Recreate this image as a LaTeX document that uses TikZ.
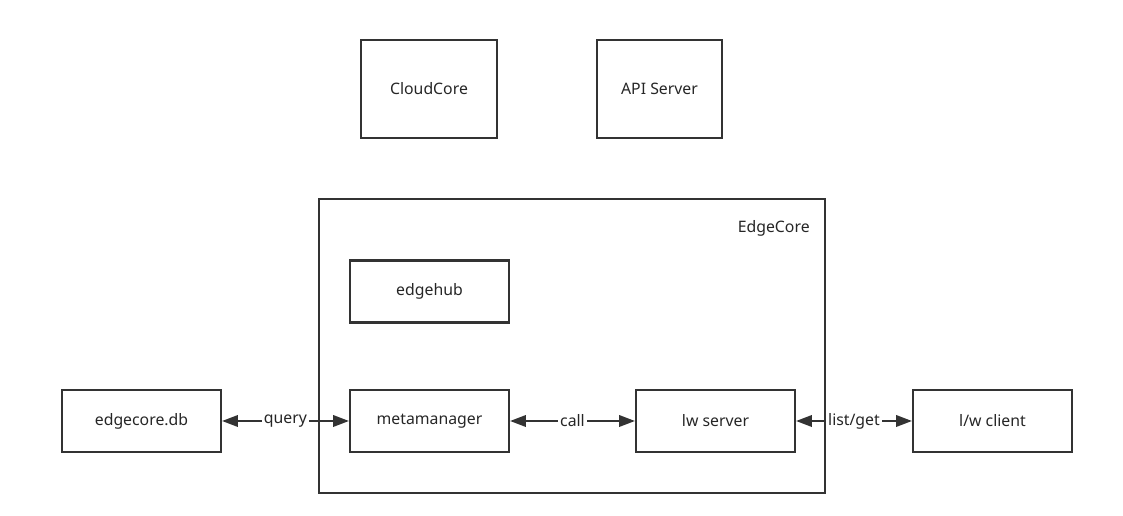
\documentclass[tikz,border=0pt]{standalone}
\usepackage{fontspec}
\setmainfont{Noto Sans}
\usetikzlibrary{arrows.meta, positioning}

\tikzset{
	box/.style={draw=black!80, line width=1.2pt, minimum width=3.18cm, minimum height=1.24cm, inner sep=0pt, text=black!85, font=\fontsize{9}{11}\selectfont},
	link/.style={{Triangle[length=9pt,width=6.5pt]}-{Triangle[length=9pt,width=6.5pt]}, line width=1.2pt, draw=black!80},
	tag/.style={fill=white, inner sep=1pt, text=black!85, font=\fontsize{9}{11}\selectfont}
}

\begin{document}
\begin{tikzpicture}[x=0.02cm, y=-0.02cm]
	\useasboundingbox (0,0) rectangle (1123,516);
	
	\coordinate (C)  at (429,89);
	\coordinate (A)  at (659.5,89);
	\coordinate (H)  at (429.5,291.5);
	\coordinate (D)  at (141.5,421);
	\coordinate (M)  at (429.5,421);
	\coordinate (S)  at (715.5,421);
	\coordinate (L)  at (992.5,421);
	
	% edgecore frame
	\draw[line width=1.2pt, draw=black!80] (319,199) rectangle (825,493);
	\node[anchor=north east, font=\fontsize{9}{11}\selectfont, text=black!85, inner sep=0pt] (edge) at (810,220) {EdgeCore};
	
	\node[box, minimum width=2.72cm, minimum height=1.96cm] (cloud) at (C) {CloudCore};
	\node[box, minimum width=2.5cm, minimum height=1.96cm] (api) at (A) {API Server};
	
	\node[box] (hub)  at (H) {edgehub};
	\node[box] (db)   at (D) {edgecore.db};
	\node[box] (meta) at (M) {metamanager};
	\node[box] (lw)   at (S) {lw server};
	\node[box] (cli)  at (L) {l/w client};
	
	\draw[link] (db) -- node[tag] {query} (meta);
	\draw[link] (meta) -- node[tag] {call} (lw);
	\draw[link] (lw) -- node[tag] {list/get} (cli);
\end{tikzpicture}
\end{document}
